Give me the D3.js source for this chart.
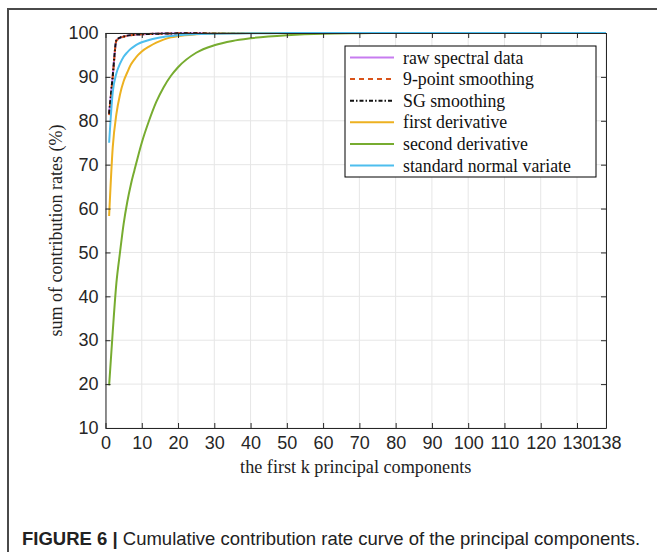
<!DOCTYPE html>
<html>
<head>
<meta charset="utf-8">
<script src="https://cdn.jsdelivr.net/npm/d3@7"></script>
<style>
  body { margin: 0; background: #fff; }
  svg { display: block; }
</style>
</head>
<body>
<div id="chart"></div>
<script>
// k values (number of principal components)
var kVals = [1, 2, 3, 4, 5, 6, 7, 8, 9, 10, 12, 14, 16, 18, 20, 25, 30, 35, 40, 50, 60, 70, 80, 100, 120, 138];

// cumulative contribution rates (%) for each pretreatment
var rawSpectral = [81.5, 90.2, 98.3, 98.9, 99.2, 99.4, 99.5, 99.6, 99.65, 99.7, 99.78, 99.83, 99.87, 99.9, 99.92, 99.95, 99.97, 99.98, 99.99, 100, 100, 100, 100, 100, 100, 100];
var smooth9 = [81.3, 90.0, 98.2, 98.8, 99.15, 99.35, 99.48, 99.58, 99.64, 99.7, 99.77, 99.82, 99.86, 99.9, 99.92, 99.95, 99.97, 99.98, 99.99, 100, 100, 100, 100, 100, 100, 100];
var sgSmooth = [81.6, 90.3, 98.35, 98.95, 99.2, 99.4, 99.52, 99.6, 99.66, 99.72, 99.78, 99.83, 99.87, 99.9, 99.92, 99.95, 99.97, 99.98, 99.99, 100, 100, 100, 100, 100, 100, 100];
var firstDeriv = [58.3, 74, 81.5, 86, 89, 91, 92.8, 94, 95, 95.8, 96.9, 97.8, 98.5, 99, 99.3, 99.7, 99.9, 99.95, 100, 100, 100, 100, 100, 100, 100, 100];
var secondDeriv = [19.7, 32, 43, 50, 56.5, 61.5, 65.5, 68.8, 72, 75, 80, 84.3, 87.6, 90.2, 92.2, 95.5, 97.2, 98.2, 98.8, 99.5, 99.85, 99.95, 100, 100, 100, 100];
var snv = [75, 86.5, 90.8, 93, 94.6, 95.6, 96.4, 97, 97.5, 97.9, 98.4, 98.8, 99.1, 99.3, 99.5, 99.75, 99.85, 99.9, 99.95, 99.98, 100, 100, 100, 100, 100, 100];

var xTicks = [0, 10, 20, 30, 40, 50, 60, 70, 80, 90, 100, 110, 120, 130, 138];
var yTicks = [10, 20, 30, 40, 50, 60, 70, 80, 90, 100];

var seriesNames = ["raw spectral data", "9-point smoothing", "SG smoothing", "first derivative", "second derivative", "standard normal variate"];

var series = [
  {name: seriesNames[0], values: rawSpectral, color: "#c77cf0", dash: null},
  {name: seriesNames[1], values: smooth9, color: "#d95319", dash: "5,4"},
  {name: seriesNames[2], values: sgSmooth, color: "#111111", dash: "4,2,1.5,2"},
  {name: seriesNames[3], values: firstDeriv, color: "#edb120", dash: null},
  {name: seriesNames[4], values: secondDeriv, color: "#77ac30", dash: null},
  {name: seriesNames[5], values: snv, color: "#4dbeee", dash: null}
];

var W = 657, H = 552;
var plot = {left: 105.5, right: 606, top: 33, bottom: 428};

var svg = d3.select("#chart")
  .append("svg")
    .attr("width", W)
    .attr("height", H);

svg.append("rect").attr("width", W).attr("height", H).attr("fill", "#fff");

// outer frame (top + left edges visible)
svg.append("path")
  .attr("d", "M8,552 L8,9 L657,9")
  .attr("fill", "none")
  .attr("stroke", "#4a4a4a")
  .attr("stroke-width", 2);

var x = d3.scaleLinear().domain([0, 138]).range([plot.left, plot.right]);
var y = d3.scaleLinear().domain([10, 100]).range([plot.bottom, plot.top]);

// grid
var grid = svg.append("g").attr("stroke", "#e6e6e6").attr("stroke-width", 1);
xTicks.forEach(function(t) {
  grid.append("line")
    .attr("x1", x(t)).attr("x2", x(t))
    .attr("y1", plot.top).attr("y2", plot.bottom);
});
yTicks.forEach(function(t) {
  grid.append("line")
    .attr("x1", plot.left).attr("x2", plot.right)
    .attr("y1", y(t)).attr("y2", y(t));
});

// lines
var line = d3.line()
  .curve(d3.curveMonotoneX)
  .x(function(d) { return x(d[0]); })
  .y(function(d) { return y(d[1]); });

series.forEach(function(s) {
  var pts = kVals.map(function(k, i) { return [k, s.values[i]]; });
  svg.append("path")
    .datum(pts)
    .attr("fill", "none")
    .attr("stroke", s.color)
    .attr("stroke-width", 2)
    .attr("stroke-dasharray", s.dash)
    .attr("d", line);
});

// axes (MATLAB style box, ticks inward)
var axisColor = "#262626";
var xAxis = svg.append("g")
  .attr("transform", "translate(0," + plot.bottom + ")")
  .call(d3.axisBottom(x).tickValues(xTicks).tickSizeInner(-5).tickSizeOuter(0).tickPadding(8));
var xAxisTop = svg.append("g")
  .attr("transform", "translate(0," + plot.top + ")")
  .call(d3.axisTop(x).tickValues(xTicks).tickSizeInner(-5).tickSizeOuter(0).tickFormat(""));
var yAxis = svg.append("g")
  .attr("transform", "translate(" + plot.left + ",0)")
  .call(d3.axisLeft(y).tickValues(yTicks).tickSizeInner(-5).tickSizeOuter(0).tickPadding(7));
var yAxisRight = svg.append("g")
  .attr("transform", "translate(" + plot.right + ",0)")
  .call(d3.axisRight(y).tickValues(yTicks).tickSizeInner(-5).tickSizeOuter(0).tickFormat(""));

[xAxis, xAxisTop, yAxis, yAxisRight].forEach(function(a) {
  a.selectAll("path, line").attr("stroke", axisColor).attr("stroke-width", 1);
  a.selectAll("text")
    .attr("fill", axisColor)
    .style("font-family", "'Liberation Sans', Arial, sans-serif")
    .style("font-size", "18px");
});

// axis labels
svg.append("text")
  .attr("x", (plot.left + plot.right) / 2)
  .attr("y", 473)
  .attr("text-anchor", "middle")
  .attr("fill", "#222")
  .style("font-family", "'Liberation Serif', 'Times New Roman', serif")
  .style("font-size", "18.2px")
  .text("the first k principal components");

svg.append("text")
  .attr("transform", "translate(62," + ((plot.top + plot.bottom) / 2) + ") rotate(-90)")
  .attr("text-anchor", "middle")
  .attr("fill", "#222")
  .style("font-family", "'Liberation Serif', 'Times New Roman', serif")
  .style("font-size", "18px")
  .text("sum of contribution rates (%)");

// legend
var legend = svg.append("g").attr("transform", "translate(345,46)");
legend.append("rect")
  .attr("width", 251).attr("height", 131)
  .attr("fill", "#fff")
  .attr("stroke", "#000")
  .attr("stroke-width", 1);

series.forEach(function(s, i) {
  var ly = 11.5 + i * 21.6;
  legend.append("line")
    .attr("x1", 5).attr("x2", 49)
    .attr("y1", ly).attr("y2", ly)
    .attr("stroke", s.color)
    .attr("stroke-width", 2)
    .attr("stroke-dasharray", s.dash);
  legend.append("text")
    .attr("x", 58).attr("y", ly + 6)
    .attr("fill", "#111")
    .style("font-family", "'Liberation Serif', 'Times New Roman', serif")
    .style("font-size", "17.8px")
    .text(s.name);
});

// caption
var caption = svg.append("text")
  .attr("x", 22).attr("y", 545)
  .attr("fill", "#222")
  .style("font-family", "'Liberation Sans', Arial, sans-serif")
  .style("font-size", "18.5px");
caption.append("tspan").style("font-weight", "bold").text("FIGURE 6 | ");
caption.append("tspan").text("Cumulative contribution rate curve of the principal components.");
</script>
</body>
</html>
